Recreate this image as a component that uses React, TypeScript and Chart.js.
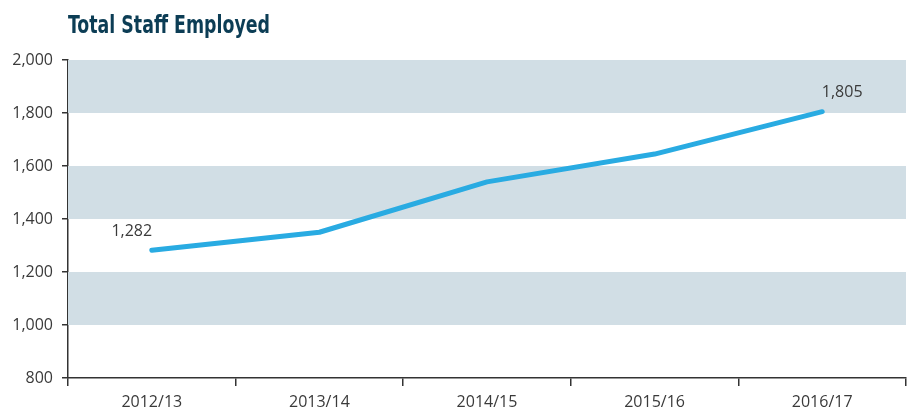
import React, { useEffect, useRef } from "react";
import { Chart, registerables } from "chart.js";

Chart.register(...registerables);

const title = "Total Staff Employed";
const categories = ["2012/13", "2013/14", "2014/15", "2015/16", "2016/17"];
const staff = [1282, 1350, 1540, 1645, 1805];
const labelledIndexes = [0, 4];
const bands: [number, number][] = [
  [1000, 1200],
  [1400, 1600],
  [1800, 2000],
];
const yMin = 800;
const yMax = 2000;
const yStep = 200;

const fmt = (v: number) => v.toLocaleString("en-US");
const FONT = "'Open Sans', sans-serif";

const bandPlugin = {
  id: "bands",
  beforeDatasetsDraw(chart: any) {
    const { ctx, chartArea, scales } = chart;
    ctx.save();
    ctx.fillStyle = "#d1dee5";
    for (const [a, b] of bands) {
      const y1 = scales.y.getPixelForValue(b);
      const y2 = scales.y.getPixelForValue(a);
      ctx.fillRect(chartArea.left, y1, chartArea.right - chartArea.left, y2 - y1);
    }
    ctx.restore();
  },
};

const labelPlugin = {
  id: "pointLabels",
  afterDatasetsDraw(chart: any) {
    const { ctx } = chart;
    const meta = chart.getDatasetMeta(0);
    ctx.save();
    ctx.font = "16px " + FONT;
    ctx.fillStyle = "#3a3a3a";
    ctx.textAlign = "center";
    ctx.textBaseline = "middle";
    labelledIndexes.forEach((i, k) => {
      const p = meta.data[i];
      const dx = k === 0 ? -20 : 20;
      ctx.fillText(fmt(staff[i]), p.x + dx, p.y - 19);
    });
    ctx.restore();
  },
};

const titlePlugin = {
  id: "leftTitle",
  afterDraw(chart: any) {
    const { ctx, chartArea } = chart;
    ctx.save();
    ctx.font = "bold 25px 'DejaVu Sans Condensed', 'DejaVu Sans', sans-serif";
    ctx.fillStyle = "#0c3d55";
    ctx.textAlign = "left";
    ctx.textBaseline = "alphabetic";
    const w = ctx.measureText(title).width;
    const target = 202;
    ctx.translate(chartArea.left, 33);
    ctx.scale(Math.min(1, target / w), 1);
    ctx.fillText(title, 0, 0);
    ctx.restore();
  },
};

export default function App() {
  const ref = useRef<HTMLCanvasElement>(null);
  useEffect(() => {
    document.body.style.margin = "0";
    const chart = new Chart(ref.current!, {
      type: "line",
      data: {
        labels: categories,
        datasets: [
          {
            data: staff,
            borderColor: "#29abe2",
            borderWidth: 5,
            borderCapStyle: "round",
            borderJoinStyle: "round",
            pointRadius: 0,
            tension: 0,
          },
        ],
      },
      options: {
        animation: false,
        responsive: false,
        maintainAspectRatio: false,
        layout: { padding: { top: 60, right: 11, left: 0, bottom: 0 } },
        plugins: { legend: { display: false }, tooltip: { enabled: false }, title: { display: false } },
        scales: {
          x: {
            offset: true,
            grid: {
              drawOnChartArea: false,
              offset: true,
              tickLength: 8,
              color: "#333",
              lineWidth: 1.5,
            },
            border: { color: "#333", width: 1.5 },
            ticks: {
              font: { family: FONT, size: 16 },
              color: "#3a3a3a",
              padding: 7,
              maxRotation: 0,
            },
            afterFit(scale: any) {
              scale.height = 34;
            },
          },
          y: {
            min: yMin,
            max: yMax,
            grid: { drawOnChartArea: false, tickLength: 6, color: "#333", lineWidth: 1.5 },
            border: { color: "#333", width: 1.5 },
            ticks: {
              stepSize: yStep,
              font: { family: FONT, size: 16 },
              color: "#3a3a3a",
              padding: 9,
              callback: (v: any) => fmt(Number(v)),
            },
            afterFit(scale: any) {
              scale.width = 68;
            },
          },
        },
      },
      plugins: [bandPlugin, labelPlugin, titlePlugin],
    });
    return () => chart.destroy();
  }, []);
  return <canvas ref={ref} width={917} height={412} style={{ display: "block" }} />;
}
